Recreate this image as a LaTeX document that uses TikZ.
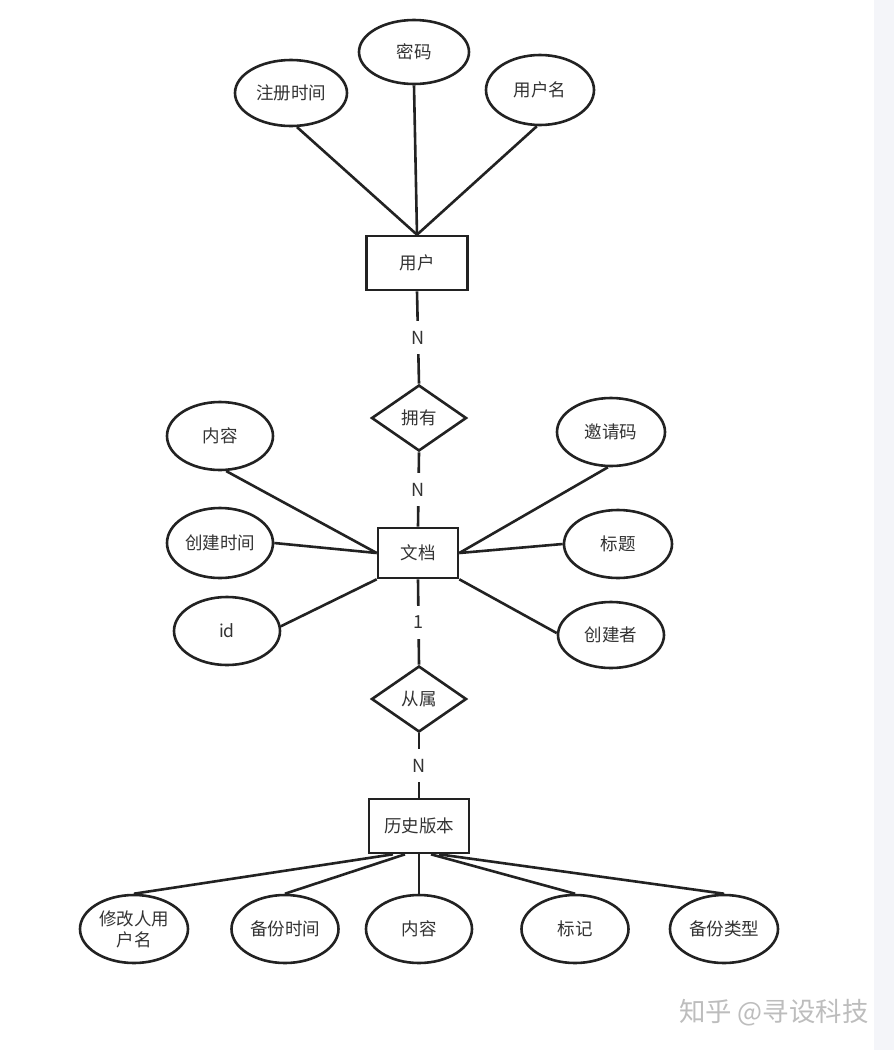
\documentclass[tikz,border=0pt]{standalone}
\usepackage{fontspec}
\newfontfamily\cjk{Noto Sans CJK SC}
\usetikzlibrary{shapes.geometric}
\definecolor{ink}{HTML}{222222}
\definecolor{txt}{HTML}{333333}
\definecolor{strip}{HTML}{F4F5F9}
\definecolor{wm}{HTML}{BDBDBD}
\tikzset{
  attr/.style={ellipse, draw=ink, line width=2.6pt, fill=white, text=txt, font=\cjk\fontsize{17.5}{21}\selectfont, inner sep=0pt, align=center},
  ent/.style={rectangle, draw=ink, line width=2.6pt, fill=white, text=txt, font=\cjk\fontsize{17.5}{21}\selectfont, inner sep=0pt},
  rel/.style={diamond, draw=ink, line width=2.6pt, fill=white, text=txt, font=\cjk\fontsize{17.5}{21}\selectfont, inner sep=0pt, minimum width=95pt, minimum height=66pt},
  lbl/.style={fill=white, text=txt, font=\cjk\fontsize{18}{20}\selectfont, inner sep=0pt, minimum height=33pt},
  conn/.style={draw=ink, line width=2.6pt}
}
\begin{document}
\begin{tikzpicture}[x=1pt,y=-1pt]
\fill[white] (0,0) rectangle (894,1050);
\fill[strip] (874,0) rectangle (894,1050);
\useasboundingbox (0,0) rectangle (894,1050);

% entities
\node[ent, minimum width=101pt, minimum height=54pt] (user) at (417,263) {用户};
\node[ent, minimum width=80pt, minimum height=50pt] (doc) at (418,553) {文档};
\node[ent, minimum width=100pt, minimum height=54pt] (hist) at (419,826) {历史版本};

% relationships
\node[rel] (own) at (419,418) {拥有};
\node[rel] (belong) at (419,699) {从属};

% user attributes
\node[attr, minimum width=112pt, minimum height=66pt] (regtime) at (291,93) {注册时间};
\node[attr, minimum width=110pt, minimum height=64pt] (pwd) at (414,52) {密码};
\node[attr, minimum width=108pt, minimum height=70pt] (uname) at (540,90) {用户名};

% document attributes
\node[attr, minimum width=106pt, minimum height=68pt] (dcontent) at (220,436) {内容};
\node[attr, minimum width=106pt, minimum height=70pt] (dctime) at (220,543) {创建时间};
\node[attr, minimum width=106pt, minimum height=68pt] (did) at (227,631) {id};
\node[attr, minimum width=108pt, minimum height=68pt] (invite) at (611,432) {邀请码};
\node[attr, minimum width=108pt, minimum height=68pt] (title) at (618,544) {标题};
\node[attr, minimum width=106pt, minimum height=66pt] (creator) at (611,635) {创建者};

% history attributes
\node[attr, minimum width=108pt, minimum height=68pt] (huser) at (134,929) {修改人用\\户名};
\node[attr, minimum width=107pt, minimum height=68pt] (htime) at (285,929) {备份时间};
\node[attr, minimum width=106pt, minimum height=68pt] (hcontent) at (419,929) {内容};
\node[attr, minimum width=107pt, minimum height=68pt] (hmark) at (575,929) {标记};
\node[attr, minimum width=108pt, minimum height=68pt] (htype) at (724,929) {备份类型};

% connectors
\draw[conn] (regtime.-80) -- (user.north);
\draw[conn] (pwd.south) -- (user.north);
\draw[conn] (uname.-95) -- (user.north);

\draw[conn] (dcontent.-80) -- (doc.west);
\draw[conn] (dctime.east) -- (doc.west);
\draw[conn] (did.5) -- (doc.south west);
\draw[conn] (invite.-95) -- (doc.east);
\draw[conn] (title.west) -- (doc.east);
\draw[conn] (creator.178) -- (doc.south east);

\coordinate (h1) at ([xshift=-26pt]hist.south);
\coordinate (h2) at ([xshift=-14pt]hist.south);
\coordinate (h4) at ([xshift=12pt]hist.south);
\coordinate (h5) at ([xshift=20pt]hist.south);
\draw[conn] (h1) -- (huser.north);
\draw[conn] (h2) -- (htime.north);
\draw[conn] (hist.south) -- (hcontent.north);
\draw[conn] (h4) -- (hmark.north);
\draw[conn] (h5) -- (htype.north);

\draw[conn] (user.south) -- node[lbl] {N} (own.north);
\draw[conn] (own.south) -- node[lbl] {N} (doc.north);
\draw[conn] (doc.south) -- node[lbl] {1} (belong.north);
\draw[conn] (belong.south) -- node[lbl] {N} (hist.north);

% watermark
\node[text=wm, font=\cjk\fontsize{26.4}{29}\selectfont, anchor=west, inner sep=0pt] (wmark) at (679,1013) {知乎 @寻设科技};
\end{tikzpicture}
\end{document}
